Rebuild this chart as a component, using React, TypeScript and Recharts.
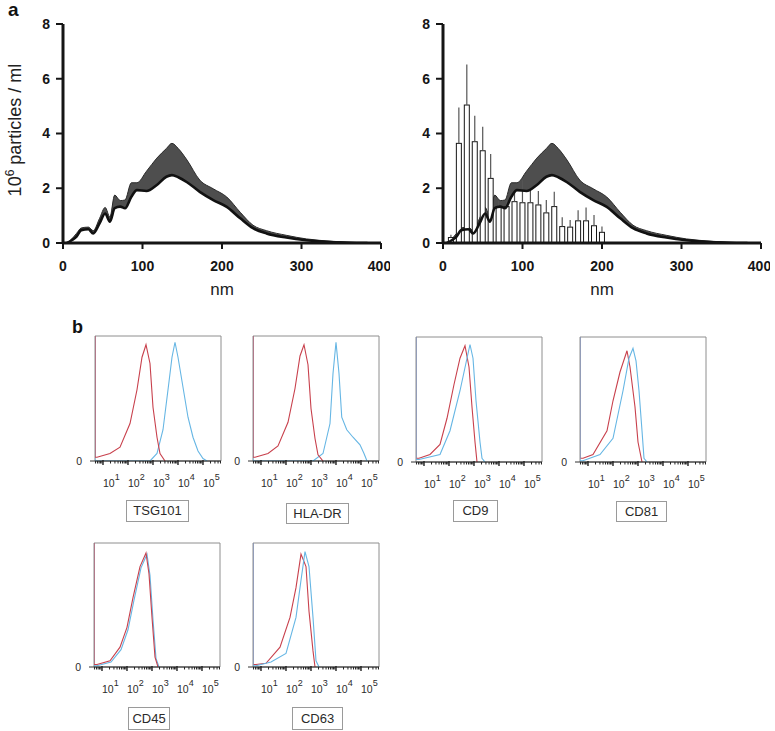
import React from 'react';
import {
  ComposedChart,
  LineChart,
  Line,
  Area,
  Bar,
  ErrorBar,
  XAxis,
  YAxis,
  ReferenceArea,
} from 'recharts';

// ---------- Panel a: NTA size distribution ----------
const sizeNm = [5, 11, 17, 23, 32, 38, 46, 53, 59, 65, 72, 78, 86, 93, 105, 118, 130, 137, 145, 156, 172, 189, 206, 223, 239, 256, 281, 306, 340, 383];
const meanConc = [0, 0.1, 0.23, 0.47, 0.5, 0.35, 0.72, 1.08, 0.78, 1.27, 1.33, 1.27, 1.69, 1.93, 1.9, 2.12, 2.42, 2.48, 2.4, 2.22, 1.87, 1.57, 1.32, 0.9, 0.54, 0.35, 0.2, 0.1, 0.03, 0];
const upperConc = [0, 0.15, 0.35, 0.55, 0.58, 0.45, 0.9, 1.3, 0.95, 1.75, 1.55, 1.57, 2.2, 2.2, 2.62, 3.1, 3.45, 3.64, 3.45, 3.03, 2.3, 1.98, 1.68, 1.12, 0.65, 0.45, 0.28, 0.15, 0.06, 0];

const barNm = [10, 20, 30, 40, 50, 60, 70, 80, 90, 100, 110, 120, 130, 140, 150, 160, 170, 180, 190, 200];
const barConc = [0.2, 3.64, 5.04, 3.7, 3.37, 2.36, 1.33, 1.33, 1.51, 1.47, 1.47, 1.39, 1.1, 1.33, 0.6, 0.58, 0.81, 0.81, 0.63, 0.39];
const barErrUp = [0.1, 1.31, 1.48, 0.95, 0.88, 0.89, 0.2, 0.2, 0.4, 0.83, 0.53, 0.51, 0.47, 0.54, 0.34, 0.26, 0.39, 0.49, 0.39, 0.21];

const ntaTicksX = [0, 100, 200, 300, 400];
const ntaTicksY = [0, 2, 4, 6, 8];

// ---------- Panel b: flow cytometry histograms (x = log10 fluorescence, y = % of max) ----------
const decades = [1, 2, 3, 4, 5];
const logDomain: [number, number] = [0.68, 5.72];

type Pt = [number, number];
const tsg101Iso: Pt[] = [[0.68, 100], [0.68, 3], [0.76, 3], [1.28, 6], [1.68, 11], [2.08, 30], [2.36, 57], [2.56, 83], [2.72, 93], [2.88, 78], [3.0, 43], [3.16, 19], [3.28, 6], [3.48, 0]];
const tsg101Ab: Pt[] = [[0.68, 100], [0.68, 0], [2.88, 0], [3.16, 6], [3.4, 25], [3.6, 57], [3.76, 83], [3.88, 95], [4.0, 83], [4.2, 59], [4.4, 35], [4.6, 19], [4.8, 8], [5.0, 2], [5.16, 0]];
const hladrIso: Pt[] = [[0.68, 100], [0.68, 3], [0.76, 3], [1.28, 6], [1.68, 12], [2.08, 31], [2.36, 58], [2.56, 84], [2.72, 93], [2.88, 77], [3.0, 42], [3.16, 18], [3.28, 5], [3.48, 0]];
const hladrAb: Pt[] = [[0.68, 100], [0.68, 0], [3.08, 0], [3.48, 6], [3.76, 30], [3.88, 70], [4.0, 95], [4.12, 70], [4.23, 35], [4.43, 25], [4.68, 19], [4.96, 13], [5.12, 6], [5.24, 0]];
const cd9Iso: Pt[] = [[0.68, 100], [0.68, 3], [0.8, 3], [1.24, 6], [1.64, 14], [1.92, 35], [2.2, 62], [2.44, 83], [2.64, 93], [2.8, 76], [2.92, 44], [3.04, 16], [3.12, 0]];
const cd9Ab: Pt[] = [[0.68, 100], [0.68, 2], [0.8, 2], [1.64, 6], [2.04, 25], [2.44, 57], [2.72, 83], [2.84, 94], [2.96, 83], [3.08, 49], [3.24, 16], [3.32, 3], [3.44, 0]];
const cd81Iso: Pt[] = [[0.68, 100], [0.68, 3], [0.8, 3], [1.2, 6], [1.76, 25], [2.0, 49], [2.28, 72], [2.56, 89], [2.68, 76], [2.88, 44], [3.0, 16], [3.16, 0]];
const cd81Ab: Pt[] = [[0.68, 100], [0.68, 1], [0.8, 1], [1.48, 6], [2.0, 19], [2.4, 57], [2.64, 83], [2.8, 91], [2.92, 81], [3.04, 57], [3.16, 25], [3.24, 3], [3.36, 0]];
const cd45Iso: Pt[] = [[0.68, 100], [0.68, 2], [0.8, 2], [1.32, 5], [1.72, 16], [2.0, 32], [2.24, 56], [2.52, 81], [2.76, 92], [2.88, 75], [3.0, 40], [3.12, 8], [3.24, 0]];
const cd45Ab: Pt[] = [[0.68, 100], [0.68, 1], [0.8, 1], [1.36, 4], [1.76, 14], [2.04, 30], [2.28, 54], [2.56, 80], [2.8, 91], [2.92, 74], [3.04, 38], [3.16, 7], [3.28, 0]];
const cd63Iso: Pt[] = [[0.68, 100], [0.68, 2], [0.8, 2], [1.2, 3], [1.76, 16], [2.16, 40], [2.4, 64], [2.6, 91], [2.8, 81], [2.92, 45], [3.08, 13], [3.16, 0]];
const cd63Ab: Pt[] = [[0.68, 100], [0.68, 1], [0.8, 1], [1.4, 4], [2.0, 11], [2.4, 40], [2.6, 70], [2.76, 93], [2.92, 81], [3.08, 40], [3.2, 5], [3.32, 0]];

const markerNames = ['TSG101', 'HLA-DR', 'CD9', 'CD81', 'CD45', 'CD63'];

// ---------- styling / layout ----------
const FONT = '"Liberation Sans", Arial, Helvetica, sans-serif';
const RED = '#c8404c';
const BLUE = '#66b6e4';

const ntaRows = sizeNm.map((nm, i) => ({ nm, mean: meanConc[i], band: [meanConc[i], upperConc[i]] }));
const barRows = barNm.map((nm, i) => ({ nm, conc: barConc[i], err: [0, barErrUp[i]] }));

const toRows = (pts: Pt[]) => pts.map(([v, y]) => ({ v, y }));

const minorTicks: number[] = [];
for (let n = 0; n <= 5; n++) {
  for (let k = 1; k <= 9; k++) {
    const t = Math.log10(k * Math.pow(10, n));
    if (t >= logDomain[0] - 1e-9 && t <= logDomain[1] + 1e-9) minorTicks.push(t);
  }
}

const LogTick = (props: any) => {
  const { x, y, payload } = props;
  const v = payload.value as number;
  const exp = decades.find((d) => Math.abs(d - v) < 1e-6);
  const major = exp !== undefined;
  return (
    <g>
      <line x1={x} x2={x} y1={y - (major ? 1 : 0)} y2={y + (major ? 4 : 2.5)} stroke="#222" strokeWidth={major ? 1.4 : 1} />
      {major && (
        <text x={x} y={y + 26} fontSize={10.5} fill="#2a2a2a" fontFamily={FONT} textAnchor="start">
          10
          <tspan dy={-7} fontSize={9}>{exp}</tspan>
        </text>
      )}
    </g>
  );
};

const NarrowBar = (props: any) => {
  const { x, y, width, height } = props;
  if (x == null || y == null || !height) return null;
  const cx = x + width / 2;
  return <rect x={cx - 2.5} y={y} width={5} height={height} fill="#ffffff" stroke="#151515" strokeWidth={1} />;
};

const ntaTickStyle = { fontSize: 14, fontWeight: 'bold' as const, fill: '#151515', fontFamily: FONT };

function NtaPanel({ left, withBars }: { left: number; withBars: boolean }) {
  return (
    <div style={{ position: 'absolute', left, top: 0 }}>
      <ComposedChart
        width={390}
        height={300}
        data={withBars ? barRows : ntaRows}
        margin={{ top: 24, right: 9, bottom: 27, left: 33 }}
      >
        <XAxis
          type="number"
          dataKey="nm"
          domain={[0, 400]}
          ticks={ntaTicksX}
          allowDataOverflow
          height={30}
          axisLine={{ stroke: '#151515', strokeWidth: 3 }}
          tickLine={{ stroke: '#151515', strokeWidth: 2 }}
          tickSize={6}
          tickMargin={12}
          tick={ntaTickStyle}
        />
        <YAxis
          type="number"
          domain={[0, 8]}
          ticks={ntaTicksY}
          allowDataOverflow
          width={30}
          axisLine={{ stroke: '#151515', strokeWidth: 3 }}
          tickLine={{ stroke: '#151515', strokeWidth: 2 }}
          tickSize={7}
          tickMargin={6}
          tick={ntaTickStyle}
        />
        {withBars && (
          <Bar dataKey="conc" barSize={5} shape={<NarrowBar />} isAnimationActive={false}>
            <ErrorBar dataKey="err" width={0} stroke="#555" strokeWidth={1.2} direction="y" />
          </Bar>
        )}
        <Area
          data={ntaRows}
          dataKey="band"
          type="monotone"
          fill="#4e4e4e"
          fillOpacity={1}
          stroke="#2a2a2a"
          strokeWidth={1}
          isAnimationActive={false}
        />
        <Line
          data={ntaRows}
          dataKey="mean"
          type="monotone"
          stroke="#111"
          strokeWidth={2.6}
          dot={false}
          isAnimationActive={false}
        />
      </ComposedChart>
    </div>
  );
}

type HistCfg = {
  name: string;
  iso: Pt[];
  ab: Pt[];
  left: number;
  top: number;
  h: number;
  blueFront: boolean;
  box: { x: number; y: number; w: number; h: number };
};

const hists: HistCfg[] = [
  { name: markerNames[0], iso: tsg101Iso, ab: tsg101Ab, left: 95, top: 336, h: 125, blueFront: false, box: { x: 126, y: 500, w: 63, h: 22 } },
  { name: markerNames[1], iso: hladrIso, ab: hladrAb, left: 253, top: 336, h: 125, blueFront: false, box: { x: 286, y: 503, w: 63, h: 21 } },
  { name: markerNames[2], iso: cd9Iso, ab: cd9Ab, left: 416, top: 337, h: 125, blueFront: true, box: { x: 453, y: 500, w: 45, h: 22 } },
  { name: markerNames[3], iso: cd81Iso, ab: cd81Ab, left: 580, top: 337, h: 125, blueFront: true, box: { x: 616, y: 501, w: 51, h: 21 } },
  { name: markerNames[4], iso: cd45Iso, ab: cd45Ab, left: 94, top: 543, h: 124, blueFront: false, box: { x: 128, y: 707, w: 42, h: 23 } },
  { name: markerNames[5], iso: cd63Iso, ab: cd63Ab, left: 253, top: 543, h: 124, blueFront: true, box: { x: 292, y: 707, w: 51, h: 23 } },
];

function Histogram({ cfg }: { cfg: HistCfg }) {
  const W = 126;
  const padL = 40;
  const padT = 5;
  const padR = 6;
  const padB = 36;
  const red = (
    <Line key="r" data={toRows(cfg.iso)} dataKey="y" type="linear" stroke={RED} strokeWidth={1.1} dot={false} isAnimationActive={false} />
  );
  const blue = (
    <Line key="b" data={toRows(cfg.ab)} dataKey="y" type="linear" stroke={BLUE} strokeWidth={1.1} dot={false} isAnimationActive={false} />
  );
  return (
    <>
      <div style={{ position: 'absolute', left: cfg.left - padL, top: cfg.top - padT }}>
        <LineChart
          width={W + padL + padR}
          height={cfg.h + padT + padB}
          margin={{ top: padT, right: padR, bottom: padB - 30, left: padL - 30 }}
        >
          <XAxis
            type="number"
            dataKey="v"
            domain={logDomain}
            allowDataOverflow
            ticks={minorTicks}
            interval={0}
            height={30}
            axisLine={{ stroke: '#222', strokeWidth: 1 }}
            tickLine={false}
            tickSize={0}
            tickMargin={0}
            tick={<LogTick />}
          />
          <YAxis
            type="number"
            domain={[0, 100]}
            allowDataOverflow
            ticks={[0]}
            width={30}
            axisLine={false}
            tickLine={{ stroke: '#333', strokeWidth: 1 }}
            tickSize={5}
            tickMargin={8}
            tick={{ fontSize: 10.5, fill: '#2a2a2a', fontFamily: FONT }}
          />
          <ReferenceArea
            x1={logDomain[0]}
            x2={logDomain[1]}
            y1={0}
            y2={100}
            fill="none"
            fillOpacity={0}
            stroke="#8e8e8e"
            strokeWidth={1}
            ifOverflow="visible"
          />
          {cfg.blueFront ? [red, blue] : [blue, red]}
        </LineChart>
      </div>
      <div
        style={{
          position: 'absolute',
          left: cfg.box.x,
          top: cfg.box.y,
          width: cfg.box.w,
          height: cfg.box.h,
          boxSizing: 'border-box',
          border: '1px solid #9a9a9a',
          fontFamily: FONT,
          fontSize: 13,
          color: '#2a2a2a',
          textAlign: 'center',
          lineHeight: `${cfg.box.h - 2}px`,
        }}
      >
        {cfg.name}
      </div>
    </>
  );
}

export default function App() {
  return (
    <div style={{ position: 'absolute', left: 0, top: 0, width: 775, height: 731, background: '#fff', fontFamily: FONT, overflow: 'hidden' }}>
      <div style={{ position: 'absolute', left: 8, top: 0, fontSize: 19, fontWeight: 'bold', lineHeight: '19px', color: '#111' }}>a</div>
      <div
        style={{
          position: 'absolute',
          left: 15 - 90,
          top: 130 - 9,
          width: 180,
          height: 18,
          lineHeight: '18px',
          fontSize: 18,
          color: '#222',
          textAlign: 'center',
          transform: 'rotate(-90deg)',
          whiteSpace: 'nowrap',
        }}
      >
        10<sup style={{ fontSize: 12, verticalAlign: 'top', position: 'relative', top: -5 }}>6</sup> particles / ml
      </div>
      <NtaPanel left={0} withBars={false} />
      <NtaPanel left={380} withBars={true} />
      <div style={{ position: 'absolute', left: 222 - 30, top: 280, width: 60, textAlign: 'center', fontSize: 17, lineHeight: '20px', color: '#222' }}>nm</div>
      <div style={{ position: 'absolute', left: 602 - 30, top: 280, width: 60, textAlign: 'center', fontSize: 17, lineHeight: '20px', color: '#222' }}>nm</div>

      <div style={{ position: 'absolute', left: 72, top: 318, fontSize: 18, fontWeight: 'bold', lineHeight: '18px', color: '#111' }}>b</div>
      {hists.map((h) => (
        <Histogram key={h.name} cfg={h} />
      ))}
    </div>
  );
}
